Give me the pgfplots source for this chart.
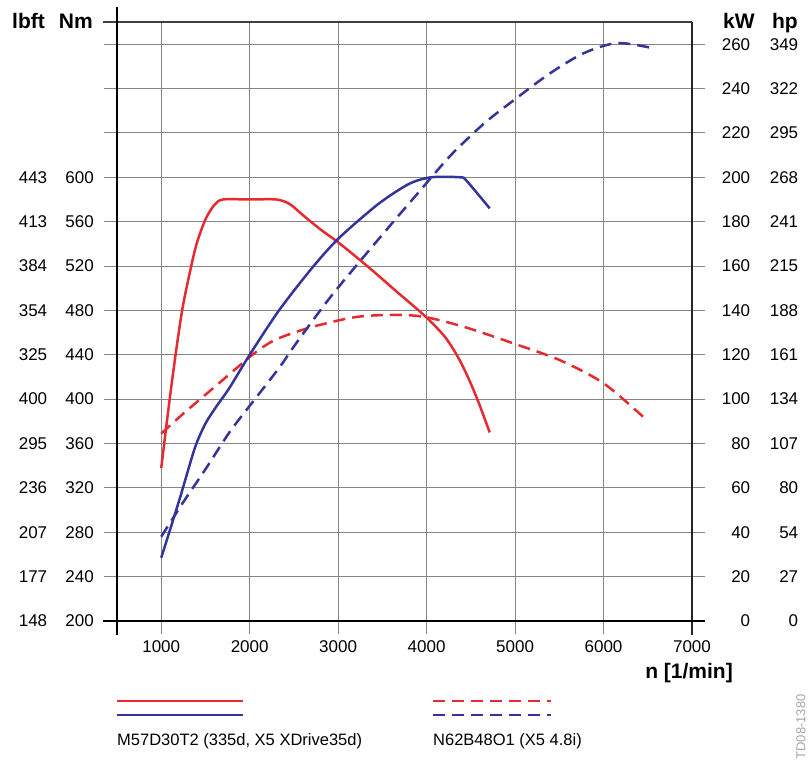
\documentclass[border=0pt]{standalone}
\usepackage{fontspec}
\setmainfont{Liberation Sans}
\usepackage{pgfplots}
\pgfplotsset{compat=1.18}
\definecolor{trq}{HTML}{E52B2F}
\definecolor{pwr}{HTML}{34349A}
\definecolor{gridc}{HTML}{858585}
\newcommand{\tl}{\fontsize{17}{17}\selectfont}
\newcommand{\lb}[2]{\makebox[75pt]{#1\hfill #2}}
\newcommand{\rb}[2]{\makebox[29pt][r]{#1}\makebox[48pt][r]{#2}}

\begin{document}
\begin{tikzpicture}
\path[use as bounding box] (-117pt,-139pt) rectangle (692pt,621pt);

% torque, Nm (left)
\begin{axis}[
    at={(0pt,0pt)}, anchor=south west,
    scale only axis, width=575pt, height=599pt,
    xmin=500, xmax=7000, ymin=200, ymax=740,
    clip=false,
    axis line style={draw=none},
    xtick={1000,2000,...,7000},
    xticklabels={1000,2000,3000,4000,5000,6000,7000},
    ytick={200,240,...,720},
    yticklabels={\lb{148}{200},\lb{177}{240},\lb{207}{280},\lb{236}{320},\lb{295}{360},
                 \lb{400}{400},\lb{325}{440},\lb{354}{480},\lb{384}{520},\lb{413}{560},
                 \lb{443}{600},{},{},{}},
    xtick pos=bottom, ytick pos=both, yticklabel pos=left,
    tick align=outside,
    major tick length=13pt,
    xmajorgrids, ymajorgrids,
    grid style={gridc, line width=0.9pt},
    major tick style={gridc, line width=0.9pt},
    xticklabel style={font=\tl, anchor=north, inner sep=0pt, yshift=-6pt},
    yticklabel style={font=\tl, anchor=east, inner sep=0pt, xshift=-10pt},
    ]
    % M57D30T2 torque
    \addplot[trq, line width=2.5pt, smooth, tension=0.5] coordinates {
        (1000,338) (1118,414) (1230,477) (1320,513) (1400,540) (1500,562)
        (1600,575) (1700,580) (2000,580) (2300,580) (2450,576) (2600,566)
        (2800,553) (3006,541) (3343,519) (3646,498) (3994,474) (4208,456)
        (4354,438) (4466,420) (4578,399) (4713,370)
    };
    % N62B48O1 torque
    \addplot[trq, line width=2.5pt, dash pattern=on 12pt off 7pt, smooth, tension=0.5] coordinates {
        (1000,369) (1250,387) (1500,404) (1750,421) (2000,438) (2150,447)
        (2331,455) (2702,465) (3197,474) (3646,476) (3983,474) (4430,465)
        (4990,450) (5510,435) (6006,414) (6490,381)
    };
    \draw[black!75, line width=1.3pt] ([xshift=-14pt]rel axis cs:0,1) -- (rel axis cs:1,1);
    \draw[black!85, line width=1.6pt] (rel axis cs:1,1) -- ([yshift=-14pt]rel axis cs:1,0);
    \draw[black, line width=2pt] ([yshift=-14pt]rel axis cs:0,0) -- ([yshift=15pt]rel axis cs:0,1);
    \draw[black, line width=2pt] ([xshift=-14pt]rel axis cs:0,0) -- ([xshift=13pt]rel axis cs:1,0);
\end{axis}

% power, kW (right)
\begin{axis}[
    at={(0pt,0pt)}, anchor=south west,
    scale only axis, width=575pt, height=599pt,
    xmin=500, xmax=7000, ymin=0, ymax=270,
    clip=false,
    axis line style={draw=none},
    hide x axis,
    ytick={0,20,...,260},
    yticklabels={\rb{0}{0},\rb{20}{27},\rb{40}{54},\rb{60}{80},\rb{80}{107},\rb{100}{134},
                 \rb{120}{161},\rb{140}{188},\rb{160}{215},\rb{180}{241},\rb{200}{268},
                 \rb{220}{295},\rb{240}{322},\rb{260}{349}},
    ytick pos=right, yticklabel pos=right,
    major tick length=0pt, tick style={draw=none},
    yticklabel style={font=\tl, anchor=west, inner sep=0pt, xshift=29pt},
    ]
    % M57D30T2 power
    \addplot[pwr, line width=2.5pt, smooth, tension=0.45] coordinates {
        (1000,28.5) (1208,55) (1380,78) (1500,89) (1620,96.5) (1770,105)
        (2000,120) (2331,140) (2702,159) (3006,172.5) (3455,188) (3800,197)
        (4050,200) (4380,200) (4450,198.5) (4713,186)
    };
    % N62B48O1 power
    \addplot[pwr, line width=2.5pt, dash pattern=on 12pt off 7pt, smooth, tension=0.5] coordinates {
        (1000,38) (1240,53) (1510,69) (1770,85) (2000,97) (2331,114)
        (2522,125) (2893,145) (3264,163) (3646,181) (3905,193) (4275,210)
        (4657,224.5) (4994,235) (5400,247) (5780,256) (6150,260.5) (6520,258.5)
    };
\end{axis}

% axis titles
\node[anchor=base west, inner sep=0pt, font=\fontsize{21}{21}\selectfont\bfseries] at (-105pt,592pt) {lbft};
\node[anchor=base east, inner sep=0pt, font=\fontsize{21}{21}\selectfont\bfseries] at (-24pt,592pt) {Nm};
\node[anchor=base west, inner sep=0pt, font=\fontsize{21}{21}\selectfont\bfseries] at (606pt,592pt) {kW};
\node[anchor=base east, inner sep=0pt, font=\fontsize{21}{21}\selectfont\bfseries] at (681pt,592pt) {hp};
\node[anchor=base east, inner sep=0pt, font=\fontsize{21}{21}\selectfont\bfseries] at (616pt,-58pt) {n [1/min]};

% legend
\draw[trq, line width=2.5pt] (0pt,-80pt) -- (126pt,-80pt);
\draw[pwr, line width=2.5pt] (0pt,-94pt) -- (126pt,-94pt);
\node[anchor=base west, inner sep=0pt, font=\fontsize{16.5}{16.5}\selectfont] at (0pt,-125pt) {M57D30T2 (335d, X5 XDrive35d)};
\draw[trq, line width=2.5pt, dash pattern=on 12pt off 7pt] (316pt,-80pt) -- (434pt,-80pt);
\draw[pwr, line width=2.5pt, dash pattern=on 12pt off 7pt] (316pt,-94pt) -- (434pt,-94pt);
\node[anchor=base west, inner sep=0pt, font=\fontsize{16.5}{16.5}\selectfont] at (316pt,-125pt) {N62B48O1 (X5 4.8i)};

\node[rotate=90, anchor=center, inner sep=0pt, text=black!35, font=\fontsize{13}{13}\selectfont] at (684pt,-106pt) {TD08-1380};
\end{tikzpicture}
\end{document}
